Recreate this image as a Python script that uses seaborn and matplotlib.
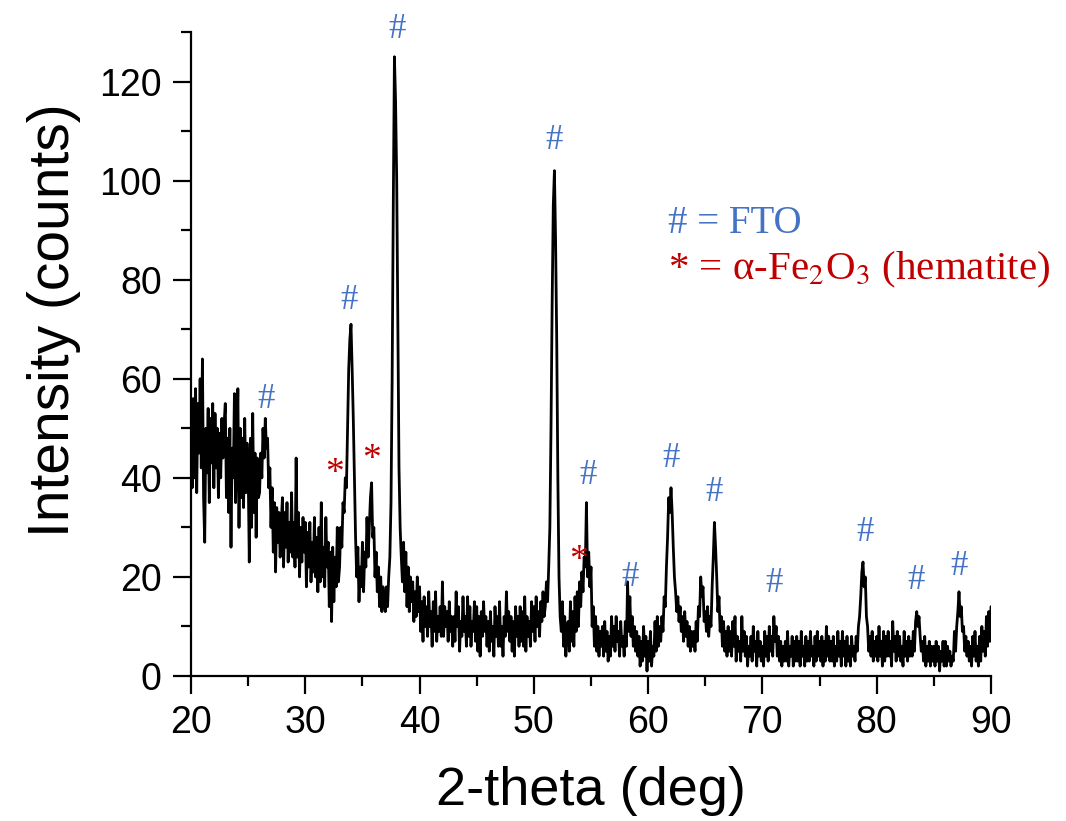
import numpy as np
import pandas as pd
import matplotlib
matplotlib.use("Agg")
import matplotlib.pyplot as plt
from matplotlib.ticker import MultipleLocator
import seaborn as sns

# ---------------- data (0.1 deg steps) ----------------
two_theta_start = 20.0
two_theta_step = 0.1

intensity = [
    52, 38, 56, 40, 58, 37, 55, 45, 60, 42,   # 20
    64, 36, 27, 50, 41, 54, 35, 52, 43, 55,   # 21
    38, 53, 42, 50, 36, 49, 40, 52, 44, 51,   # 22
    55, 36, 48, 33, 50, 26, 46, 40, 57, 35,   # 23
    44, 58, 30, 50, 36, 48, 34, 52, 37, 47,   # 24
    42, 23, 48, 30, 53, 33, 45, 28, 44, 36,   # 25
    37, 45, 40, 50, 44, 52, 46, 48, 38, 42,   # 26
    30, 38, 25, 35, 21, 34, 27, 33, 24, 31,   # 27
    36, 22, 33, 26, 35, 23, 31, 25, 37, 24,   # 28
    31, 22, 44, 24, 33, 20, 30, 23, 32, 25,   # 29
    31, 18, 29, 22, 31, 19, 27, 21, 32, 20,   # 30
    28, 17, 30, 19, 35, 20, 26, 18, 32, 22,   # 31
    27, 14, 25, 11, 26, 15, 24, 18, 30, 19,   # 32
    22, 30, 26, 35, 33, 40, 38, 50, 62, 68,   # 33
    71, 62, 52, 40, 28, 20, 26, 15, 22, 18,   # 34
    27, 17, 25, 22, 32, 24, 30, 36, 39, 28,   # 35
    30, 20, 25, 17, 22, 14, 20, 13, 18, 15,   # 36
    13, 18, 14, 20, 24, 35, 60, 95, 125, 116, # 37
    100, 70, 42, 30, 24, 19, 27, 17, 25, 14,  # 38
    22, 13, 20, 15, 19, 11, 17, 12, 20, 13,   # 39
    18, 9, 15, 7, 16, 10, 14, 8, 17, 10,      # 40
    13, 6, 15, 9, 17, 7, 12, 9, 14, 8,        # 41
    19, 8, 14, 10, 13, 7, 15, 9, 12, 6,       # 42
    12, 7, 17, 10, 14, 5, 11, 8, 16, 9,       # 43
    12, 6, 16, 8, 14, 6, 11, 9, 15, 7,        # 44
    14, 5, 12, 4, 13, 8, 15, 9, 12, 6,        # 45
    11, 5, 13, 7, 10, 4, 14, 8, 12, 6,        # 46
    15, 6, 10, 4, 12, 8, 17, 9, 13, 7,        # 47
    12, 5, 11, 4, 14, 8, 12, 6, 14, 7,        # 48
    13, 6, 16, 5, 12, 8, 11, 6, 15, 9,        # 49
    14, 7, 16, 10, 13, 8, 15, 11, 17, 12,     # 50
    14, 19, 15, 22, 30, 50, 75, 95, 102, 88,  # 51
    68, 40, 20, 12, 9, 15, 6, 12, 4, 10,      # 52
    11, 5, 15, 7, 13, 6, 16, 9, 17, 10,       # 53
    19, 14, 21, 17, 24, 22, 35, 20, 25, 18,   # 54
    22, 10, 14, 6, 12, 5, 10, 4, 9, 6,        # 55
    10, 4, 11, 5, 9, 3, 8, 4, 12, 6,          # 56
    10, 5, 12, 7, 9, 4, 11, 6, 8, 4,          # 57
    11, 6, 19, 9, 16, 8, 12, 6, 10, 5,        # 58
    9, 4, 8, 2, 7, 3, 10, 4, 8, 1,            # 59
    7, 3, 9, 2, 6, 4, 11, 5, 12, 6,           # 60
    10, 7, 12, 9, 16, 14, 22, 28, 36, 33,     # 61
    38, 33, 26, 20, 17, 13, 16, 11, 14, 9,    # 62
    12, 7, 13, 8, 11, 6, 10, 5, 9, 6,         # 63
    9, 5, 11, 7, 14, 12, 20, 16, 18, 11,      # 64
    13, 9, 14, 8, 12, 10, 18, 24, 31, 26,     # 65
    20, 13, 16, 9, 12, 6, 11, 5, 9, 4,        # 66
    10, 5, 9, 4, 11, 6, 12, 3, 8, 5,          # 67
    7, 3, 12, 5, 9, 4, 8, 2, 6, 4,            # 68
    8, 3, 10, 5, 7, 2, 9, 4, 7, 3,            # 69
    6, 2, 9, 4, 8, 3, 10, 5, 8, 4,            # 70
    12, 7, 10, 4, 8, 3, 7, 2, 6, 3,           # 71
    7, 3, 9, 2, 6, 4, 8, 2, 7, 3,             # 72
    8, 3, 7, 2, 9, 4, 6, 2, 8, 3,             # 73
    7, 3, 9, 4, 6, 2, 8, 3, 9, 4,             # 74
    7, 3, 8, 2, 7, 3, 10, 4, 8, 3,            # 75
    7, 3, 8, 2, 6, 3, 9, 4, 7, 2,             # 76
    9, 4, 7, 2, 8, 3, 6, 2, 8, 4,             # 77
    6, 3, 8, 5, 10, 12, 16, 21, 23, 18,       # 78
    20, 12, 10, 5, 8, 4, 9, 3, 7, 4,          # 79
    8, 3, 10, 4, 7, 2, 9, 3, 8, 4,            # 80
    9, 4, 7, 2, 11, 5, 8, 3, 9, 4,            # 81
    8, 3, 6, 2, 9, 4, 7, 3, 8, 4,             # 82
    7, 4, 9, 5, 11, 13, 10, 12, 8, 5,         # 83
    7, 3, 8, 2, 6, 3, 7, 2, 6, 3,             # 84
    6, 2, 7, 3, 6, 1, 5, 3, 7, 2,             # 85
    7, 2, 6, 3, 5, 2, 4, 3, 9, 5,             # 86
    10, 13, 17, 12, 14, 9, 10, 5, 8, 4,       # 87
    7, 3, 6, 2, 8, 4, 9, 3, 6, 2,             # 88
    8, 3, 10, 5, 9, 4, 12, 6, 13, 7,          # 89
    14,                                       # 90
]
two_theta = np.round(two_theta_start + two_theta_step * np.arange(len(intensity)), 2)

# peak labels
fto_x = [26.6, 33.8, 38.0, 51.8, 54.7, 58.4, 62.0, 65.8, 71.0, 79.0, 83.4, 87.2]
fto_y = [55.8, 75.8, 130.5, 108.0, 40.5, 19.8, 44.0, 37.0, 18.6, 29.0, 19.2, 22.2]
hem_x = [32.6, 35.8, 53.95]
hem_y = [40.8, 43.6, 23.2]

x_label = "2-theta (deg)"
y_label = "Intensity (counts)"
legend_fto = "# = FTO"
legend_hem = r"* = α-Fe$_2$O$_3$ (hematite)"

blue = "#4472C4"
red = "#C00000"

# ---------------- plot ----------------
sns.set_theme(style="ticks")
plt.rcParams["font.family"] = ["Liberation Sans", "DejaVu Sans"]
plt.rcParams["mathtext.fontset"] = "stix"

df = pd.DataFrame({"two_theta": two_theta, "intensity": intensity})

fig = plt.figure(figsize=(10.66, 8.21), dpi=100)
ax = fig.add_axes([191 / 1066, 1 - 676 / 821, 800 / 1066, 644 / 821])

sns.lineplot(data=df, x="two_theta", y="intensity", color="black",
             linewidth=2.0, ax=ax, estimator=None, sort=False)

ax.set_xlim(20, 90)
ax.set_ylim(0, 130)
ax.xaxis.set_major_locator(MultipleLocator(10))
ax.xaxis.set_minor_locator(MultipleLocator(5))
ax.yaxis.set_major_locator(MultipleLocator(20))
ax.yaxis.set_minor_locator(MultipleLocator(10))

for side in ["top", "right"]:
    ax.spines[side].set_visible(False)
for side in ["left", "bottom"]:
    ax.spines[side].set_linewidth(1.6)
    ax.spines[side].set_color("black")

ax.tick_params(which="major", direction="out", length=13, width=1.6,
               labelsize=27, pad=8, colors="black")
ax.tick_params(which="minor", direction="out", length=7, width=1.6, colors="black")

ax.set_xlabel(x_label, fontsize=39, color="black")
ax.set_ylabel(y_label, fontsize=41, color="black")
ax.xaxis.set_label_coords(0.5, -0.14)
ax.yaxis.set_label_coords(-0.137, 0.552)

serif = ["Liberation Serif", "DejaVu Serif"]
for x, y in zip(fto_x, fto_y):
    ax.text(x, y, "#", color=blue, fontsize=25, family=serif,
            ha="center", va="center", clip_on=False)
for x, y in zip(hem_x, hem_y):
    ax.text(x, y, "*", color=red, fontsize=27, family=serif,
            ha="center", va="center", clip_on=False)

ax.text(61.7, 89.5, legend_fto, color=blue, fontsize=28, family=serif,
        ha="left", va="baseline")
ax.text(61.7, 80.0, legend_hem, color=red, fontsize=29.5, family=serif,
        ha="left", va="baseline")

fig.savefig("out.png", dpi=100)
